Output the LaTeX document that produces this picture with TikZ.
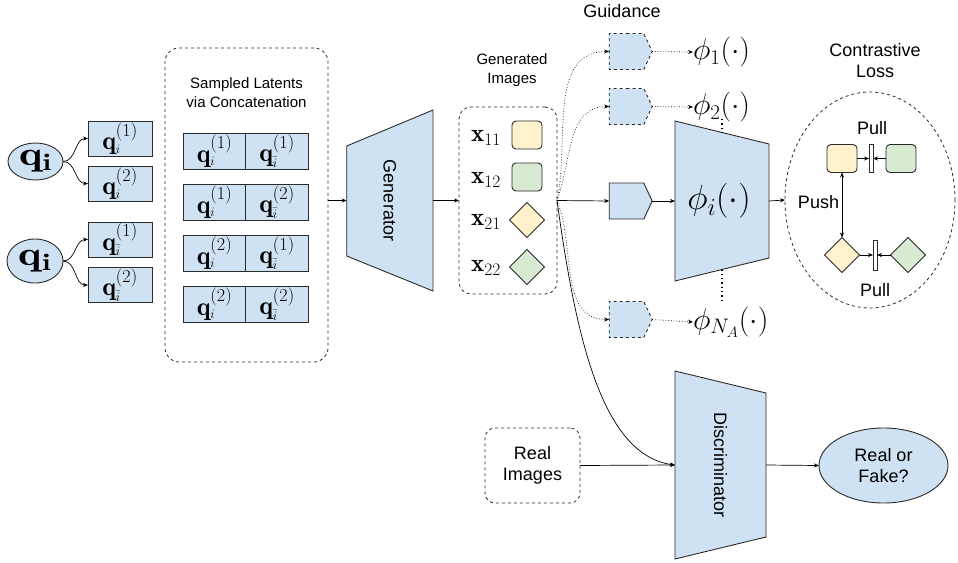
\RequirePackage{fix-cm}
\documentclass[tikz,border=0pt]{standalone}
\usepackage{amsmath}
\usepackage{fontspec}
\newfontfamily\arial{Liberation Sans}
\usetikzlibrary{shapes.geometric,shapes.symbols,arrows.meta}
\definecolor{lblue}{HTML}{CFE2F3}
\definecolor{lyel}{HTML}{FFF2CC}
\definecolor{lgrn}{HTML}{D9EAD3}
\definecolor{edge}{HTML}{2B2B2B}
\newcommand{\qa}[1]{$\mathbf{q}_{\scriptscriptstyle i}^{(#1)}$}
\newcommand{\qb}[1]{$\mathbf{q}_{\scriptscriptstyle \bar{i}}^{(#1)}$}
\tikzset{
  every node/.style={inner sep=0pt, outer sep=0pt},
  arr/.style={-{Stealth[length=5pt,width=4pt]}, line width=0.7pt, draw=black},
  darr/.style={arr, dotted},
  qbox/.style={draw=edge, fill=lblue, line width=0.9pt, minimum width=64pt, minimum height=35pt, font=\fontsize{26}{26}\selectfont},
  cbox/.style={draw=edge, fill=lblue, line width=0.9pt, minimum width=62.5pt, minimum height=36pt, font=\fontsize{26}{26}\selectfont},
  qell/.style={ellipse, draw=edge, fill=lblue, line width=0.9pt},
  grp/.style={draw=edge, dashed, line width=0.8pt, rounded corners=14pt},
  lab/.style={font=\arial\fontsize{18}{21}\selectfont, align=center},
  slab/.style={font=\arial\fontsize{15}{19}\selectfont, align=center},
  trap/.style={draw=edge, fill=lblue, line width=0.9pt},
  ghost/.style={draw=none, fill=none},
  ysq/.style={draw=edge, fill=lyel, rounded corners=4pt, minimum width=30pt, minimum height=28pt, line width=0.9pt},
  gsq/.style={ysq, fill=lgrn},
  ydi/.style={diamond, draw=edge, fill=lyel, minimum width=35pt, minimum height=35pt, line width=0.9pt},
  gdi/.style={ydi, fill=lgrn},
  pent/.style={signal, signal to=east, signal pointer angle=130, fill=lblue, draw=edge, line width=0.9pt, minimum width=43pt, minimum height=36pt},
  dpent/.style={pent, dashed},
  barbox/.style={draw=edge, fill=white, minimum width=4pt, line width=0.8pt},
  xtxt/.style={font=\fontsize{25}{25}\selectfont},
  phitxt/.style={font=\fontsize{30}{30}\selectfont},
  vdots/.style={line width=1.3pt, dash pattern=on 1.3pt off 3pt},
}
\begin{document}
\begin{tikzpicture}[x=1pt,y=-1pt]
\useasboundingbox (0,0) rectangle (958,562);

% --- left latent ellipses
\node[qell, minimum width=55pt, minimum height=37pt] (qi) at (35.5,161.5)
  {\scalebox{1.3}[1]{\fontsize{34}{34}\selectfont$\mathbf{q_i}$}};
\node[qell, minimum width=56pt, minimum height=44pt] (qb) at (35,261)
  {\scalebox{1.3}[1]{\fontsize{34}{34}\selectfont$\mathbf{q_{\bar{i}}}$}};

\node[qbox] (q1) at (120,138.5) {\qa{1}};
\node[qbox] (q2) at (120,183.5) {\qa{2}};
\node[qbox] (q3) at (120,239.5) {\qb{1}};
\node[qbox] (q4) at (120,285) {\qb{2}};

\draw[arr] (qi.east) to[out=0,in=180] (q1.west);
\draw[arr] (qi.east) to[out=0,in=180] (q2.west);
\draw[arr] (qb.east) to[out=0,in=180] (q3.west);
\draw[arr] (qb.east) to[out=0,in=180] (q4.west);

% --- sampled latents group
\node[grp, minimum width=163pt, minimum height=314pt] (lat) at (246.5,205) {};
\node[slab] (latt) at (246.5,93) {Sampled Latents\\via Concatenation};
\node[cbox] (c1a) at (214.5,151) {\qa{1}};
\node[cbox] (c1b) at (277,151) {\qb{1}};
\node[cbox] (c2a) at (214.5,202) {\qa{1}};
\node[cbox] (c2b) at (277,202) {\qb{2}};
\node[cbox] (c3a) at (214.5,253) {\qa{2}};
\node[cbox] (c3b) at (277,253) {\qb{1}};
\node[cbox] (c4a) at (214.5,304) {\qa{2}};
\node[cbox] (c4b) at (277,304) {\qb{2}};

% --- generator
\draw[trap] (346.7,146) -- (433,110) -- (433,291) -- (346.7,256) -- cycle;
\node[ghost, minimum width=86.3pt, minimum height=181pt] (gen) at (389.85,200.5) {};
\node[lab, rotate=-90] (gent) at (gen.center) {Generator};
\draw[arr] (lat.east |- gen.west) -- (gen.west);

% --- generated images
\node[slab] (imgt) at (512,70) {Generated\\Images};
\node[grp, rounded corners=12pt, minimum width=98pt, minimum height=187pt] (imgs) at (508,200.5) {};
\draw[arr] (gen.east) -- (imgs.west);
\node[xtxt] (x11) at (486,138) {$\mathbf{x}_{11}$};
\node[xtxt] (x12) at (486,180) {$\mathbf{x}_{12}$};
\node[xtxt] (x21) at (486,222) {$\mathbf{x}_{21}$};
\node[xtxt] (x22) at (486,268) {$\mathbf{x}_{22}$};
\node[ysq] (s11) at (527,135) {};
\node[gsq] (s12) at (527,177) {};
\node[ydi] (d21) at (527,220) {};
\node[gdi] (d22) at (527,267) {};

% --- guidance
\node[lab] (guid) at (622,11) {Guidance};
\node[dpent] (g1) at (626.5,51.5) {};
\node[dpent] (g2) at (626.5,106.5) {};
\node[pent] (gi) at (626.5,201) {};
\node[dpent] (gN) at (626.5,319.5) {};
\draw[darr] (imgs.east) to[out=78,in=180] (g1.west);
\draw[darr] (imgs.east) to[out=70,in=180] (g2.west);
\draw[arr] (imgs.east) -- (gi.west);
\draw[darr] (imgs.east) to[out=-68,in=180] (gN.west);

\node[phitxt, anchor=west] (p1) at (693,52) {$\phi_1(\cdot)$};
\node[phitxt, anchor=west] (p2) at (693,107) {$\phi_2(\cdot)$};
\node[phitxt, anchor=west] (pN) at (693,322) {$\phi_{N_A}(\cdot)$};
\draw[darr] (g1.east) -- (p1.west);
\draw[darr] (g2.east) -- (p2.west);
\draw[darr] (gN.east) -- (pN.west);

% --- phi_i network
\draw[trap] (675,121) -- (769,144) -- (769,258) -- (675,281) -- cycle;
\node[ghost, minimum width=94pt, minimum height=160pt] (phii) at (722,201) {};
\node[font=\fontsize{35}{35}\selectfont] (phit) at (719,201) {$\phi_i(\cdot)$};
\draw[arr] (gi.east) -- (phii.west);
\coordinate (ttop) at (722,132.5);
\coordinate (tbot) at (722,269.5);
\coordinate (d2) at (722,119);
\coordinate (dN) at (722,303);
\draw[vdots] (d2) -- (ttop);
\draw[vdots] (tbot) -- (dN);

% --- contrastive loss
\node[lab] (clt) at (875,61) {Contrastive\\Loss};
\node[ellipse, draw=edge, dashed, line width=0.8pt, minimum width=170pt, minimum height=216pt] (cl) at (870,200) {};
\draw[arr] (phii.east) -- (cl.west);
\node[lab] (pull1) at (872,128) {Pull};
\node[ysq] (ya) at (842,158.5) {};
\node[barbox, minimum height=28pt] (b1) at (871,158.5) {};
\node[gsq] (gb) at (901,158.5) {};
\draw[arr] (ya.east) -- (b1.west);
\draw[arr] (gb.west) -- (b1.east);
\node[ydi] (yd) at (842,255) {};
\node[barbox, minimum height=30pt] (b2) at (875,255) {};
\node[gdi] (gd) at (908,255) {};
\draw[arr] (yd.east) -- (b2.west);
\draw[arr] (gd.west) -- (b2.east);
\draw[{Stealth[length=5pt,width=4pt]}-{Stealth[length=5pt,width=4pt]}, line width=0.7pt] (ya.south) -- (yd.north);
\node[lab] (push) at (818.5,202) {Push};
\node[lab] (pull2) at (875,290) {Pull};

% --- discriminator
\draw[trap] (675,371) -- (766,393) -- (766,537) -- (675,559) -- cycle;
\node[ghost, minimum width=91pt, minimum height=188pt] (disc) at (720.5,465) {};
\node[lab, rotate=-90] (disct) at (disc.center) {Discriminator};
\node[grp, rounded corners=10pt, minimum width=95pt, minimum height=75pt, lab] (real) at (532.5,465.5) {Real\\Images};
\draw[arr] (real.east) -- (disc.west);
\draw[arr] (imgs.east) .. controls (575,330) and (600,455) .. (disc.west);
\node[ellipse, draw=edge, fill=lblue, line width=0.9pt, minimum width=129pt, minimum height=75pt, lab] (rf) at (883.5,465.5) {Real or\\Fake?};
\draw[arr] (disc.east) -- (rf.west);
\end{tikzpicture}
\end{document}
